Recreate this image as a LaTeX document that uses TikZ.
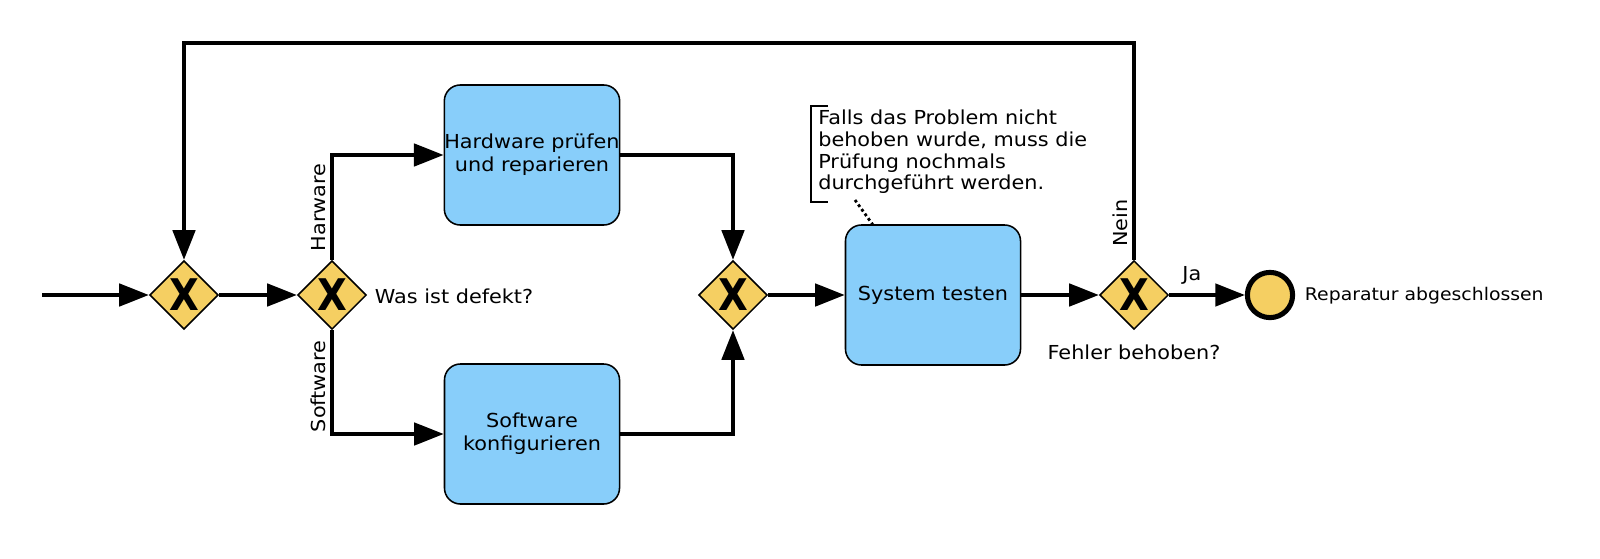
\documentclass[tikz,border=0pt]{standalone}
\usepackage{fontspec}
\setmainfont{DejaVu Sans}[FakeStretch=1.08]
\newcommand{\xgate}{\scalebox{0.82}[1]{X}}
\usetikzlibrary{arrows.meta, positioning, shapes.geometric}
\definecolor{gwyellow}{RGB}{245,207,98}
\definecolor{taskblue}{RGB}{136,206,250}
\tikzset{flow/.style={-{Triangle[length=0.74cm,width=0.56cm]}, line width=2.5pt},
    gateway/.style={diamond,draw,fill=gwyellow,line width=1.1pt,
        minimum width=1.72cm,minimum height=1.72cm,inner sep=0pt,
        font=\fontsize{31}{31}\selectfont\bfseries},
    task/.style={rectangle,rounded corners=0.4cm,draw,fill=taskblue,line width=1.1pt,
        minimum width=4.375cm,minimum height=3.5cm,align=center,inner sep=0pt,
        font=\fontsize{13.7}{16.4}\selectfont},
    endevent/.style={circle,draw,fill=gwyellow,line width=3.6pt,minimum size=1.13cm},
    assoc/.style={dotted,line width=2pt},
    textnode/.style={font=\fontsize{13.7}{15.4}\selectfont}}

\begin{document}
\begin{tikzpicture}
[x=0.025cm,y=-0.025cm]
\useasboundingbox (0,0) rectangle (1600,559);
\coordinate (start) at (42,295);
\coordinate (top) at (0,43);
\node[gateway] (merge)  at (184,295)  {\xgate};
\node[gateway] (defect) at (332,295)  {\xgate};
\node[task]    (hw)     at (532,155)  {Hardware prüfen\\und reparieren};
\node[task]    (sw)     at (532,434)  {Software\\konfigurieren};
\node[gateway] (join)   at (733,295)  {\xgate};
\node[task]    (test)   at (933,295)  {System testen};
\node[gateway] (fixed)  at (1134,295) {\xgate};
\node[endevent] (done)  at (1270,295) {};
\node[textnode, anchor=west] (q1) at (370,296) {Was ist defekt?};
\node[textnode] (q2) at (1134,352) {Fehler behoben?};
\node[textnode, anchor=west, font=\fontsize{12.4}{14}\selectfont] (donetext) at (1300,296) {Reparatur abgeschlossen};
\node[textnode, anchor=north west, align=left, inner sep=0pt] (note) at (818,110)
    {Falls das Problem nicht\\behoben wurde, muss die\\Prüfung nochmals\\durchgeführt werden.};
\draw[line width=1.1pt] (828,106) -- (811,106) -- (811,202) -- (828,202);
\coordinate (noteend) at (855,200);
\coordinate (testtop) at (873,225);
\draw[assoc] (noteend) -- (testtop);

\path[flow]
    (start)  edge (merge)
    (merge)  edge (defect)
    (join)   edge (test)
    (test)   edge (fixed)
    (fixed)  edge node[textnode, above=3pt, pos=0.3] {Ja} (done);
\draw[flow] (defect.north) |- (hw.west) node[textnode, pos=0.25, rotate=90, above] {Harware};
\draw[flow] (defect.south) |- (sw.west) node[textnode, pos=0.27, rotate=90, above] {Software};
\draw[flow] (hw.east) -| (join.north);
\draw[flow] (sw.east) -| (join.south);
\draw[flow] (fixed.north) -- node[textnode, pos=0.17, rotate=90, above] {Nein} (fixed.north |- top) -| (merge.north);
\end{tikzpicture}
\end{document}
